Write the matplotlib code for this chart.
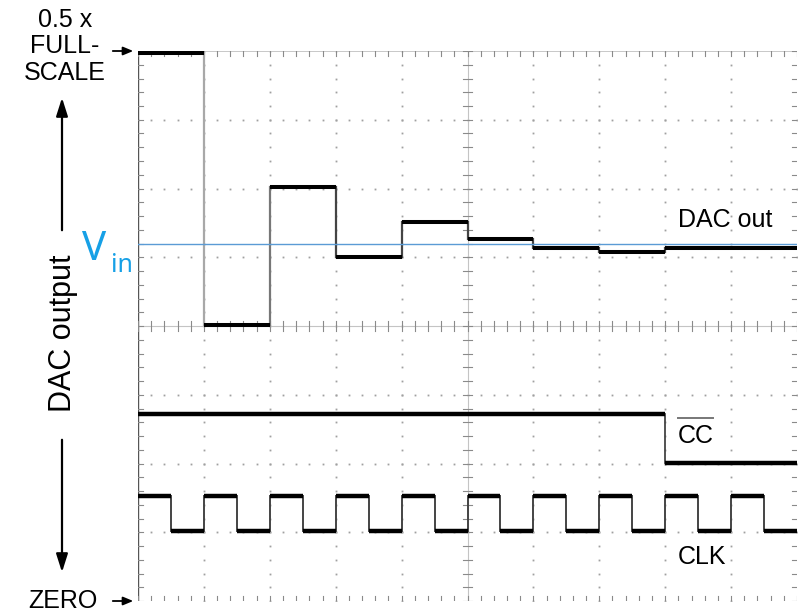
import numpy as np
import matplotlib
matplotlib.use("Agg")
import matplotlib.pyplot as plt
from matplotlib.lines import Line2D

# ---------------- data (in graticule divisions) ----------------
dac_edges = [0, 1, 2, 3, 4, 5, 6, 7, 8, 10]
dac_levels = [7.97, 4.01, 6.02, 5.01, 5.51, 5.26, 5.14, 5.07, 5.13]

cc_edges = [0, 8, 10]
cc_levels = [2.72, 2.01]

clk_edges = [0, 0.5, 1, 1.5, 2, 2.5, 3, 3.5, 4, 4.5, 5, 5.5, 6, 6.5, 7, 7.5, 8, 8.5, 9, 9.5, 10]
clk_levels = [1.53, 1.02, 1.53, 1.02, 1.53, 1.02, 1.53, 1.02, 1.53, 1.02,
              1.53, 1.02, 1.53, 1.02, 1.53, 1.02, 1.53, 1.02, 1.53, 1.02]

vin_level = 5.19

W, H = 801, 613
fig = plt.figure(figsize=(W / 100, H / 100), dpi=100)
fig.patch.set_facecolor("white")
L, R, T, B = 138, 797, 51, 601
ax = fig.add_axes([L / W, 1 - B / H, (R - L) / W, (B - T) / H])
ax.set_xlim(0, 10)
ax.set_ylim(0, 8)
ax.axis("off")

# ---------------- graticule ----------------
dot_c = "#a0a0a0"
ys = np.arange(0, 8.001, 0.2)
xs = np.arange(0, 10.001, 0.2)
for gx in range(1, 10):
    if gx == 5:
        continue
    ax.plot(np.full_like(ys, gx), ys, ls="none", marker="s", ms=1.3, mew=0, color=dot_c)
for gy in range(1, 8):
    if gy == 4:
        continue
    ax.plot(xs, np.full_like(xs, gy), ls="none", marker="s", ms=1.3, mew=0, color=dot_c)

# center cross hairs and borders
ax.plot([5, 5], [0, 8], color="#c4c4c4", lw=0.8)
ax.plot([0, 10], [4, 4], color="#c4c4c4", lw=0.8)
ax.plot([0, 10], [8, 8], color="#c8c8c8", lw=0.7)
ax.plot([0, 10], [0, 0], color="#c8c8c8", lw=0.7)
ax.plot([10, 10], [0, 8], color="#c8c8c8", lw=0.7)
ax.plot([0, 0], [0, 8], color="#555555", lw=1.0)

tx = 0.07  # tick half-length in x-div
ty = 0.07
for x0 in (0, 5, 10):
    for y in ys:
        ax.plot([x0 - tx if x0 > 0 else x0, x0 + tx if x0 < 10 else x0], [y, y], color="#8a8a8a", lw=0.8)
for y0 in (0, 4, 8):
    for x in xs:
        ax.plot([x, x], [y0 - ty if y0 > 0 else y0, y0 + ty if y0 < 8 else y0], color="#8a8a8a", lw=0.8)

# ---------------- traces ----------------
def trace(edges, levels, lw_h=3.0, vcols=None, lw_v=1.3):
    for i, lv in enumerate(levels):
        ax.plot([edges[i], edges[i + 1]], [lv, lv], color="black", lw=lw_h,
                solid_capstyle="butt", zorder=5)
        if i + 1 < len(levels):
            c = vcols[i] if vcols else "#444444"
            ax.plot([edges[i + 1], edges[i + 1]], [lv, levels[i + 1]], color=c, lw=lw_v, zorder=4)

dac_vcols = ["#a8a8a8", "#777777", "#444444", "#444444", "#444444", "#444444", "#444444", "#444444"]
trace(dac_edges, dac_levels, lw_h=2.9, vcols=dac_vcols, lw_v=1.6)
trace(cc_edges, cc_levels, lw_h=3.2)
trace(clk_edges, clk_levels, lw_h=3.2, lw_v=1.4)

ax.axhline(vin_level, color="#5B9BD5", lw=1.0, zorder=6)

# ---------------- labels ----------------
fam = ["Liberation Sans", "DejaVu Sans"]
def fp(px, py):
    return px, H - py

fs = 18
for txt, py in (("0.5 x", 20), ("FULL-", 46), ("SCALE", 73)):
    fig.text(65 / W, 1 - py / H, txt, ha="center", va="center", fontsize=fs, family=fam)
fig.text(63 / W, 1 - 601 / H, "ZERO", ha="center", va="center", fontsize=fs, family=fam)

arrow_small = dict(arrowstyle="-|>,head_length=0.6,head_width=0.25", color="black", lw=1.3)
ax.annotate("", xy=fp(136, 51), xytext=fp(110, 51), xycoords="figure pixels",
            textcoords="figure pixels", arrowprops=arrow_small)
ax.annotate("", xy=fp(136, 601), xytext=fp(110, 601), xycoords="figure pixels",
            textcoords="figure pixels", arrowprops=arrow_small)

arrow_big = dict(arrowstyle="-|>,head_length=1.1,head_width=0.35", color="black", lw=1.6)
ax.annotate("", xy=fp(62, 95), xytext=fp(62, 233), xycoords="figure pixels",
            textcoords="figure pixels", arrowprops=arrow_big)
ax.annotate("", xy=fp(62, 575), xytext=fp(62, 437), xycoords="figure pixels",
            textcoords="figure pixels", arrowprops=arrow_big)

fig.text(63 / W, 1 - 333 / H, "DAC output", rotation=90, ha="center", va="center",
         fontsize=22, family=fam)

blue = "#16A0E6"
fig.text(82 / W, 1 - 260 / H, "V", ha="left", va="baseline", fontsize=29,
         family=["Noto Sans", "DejaVu Sans"], color=blue)
fig.text(111 / W, 1 - 272 / H, "in", ha="left", va="baseline", fontsize=18,
         family=["Noto Sans", "DejaVu Sans"], color=blue)

fig.text(678 / W, 1 - 220 / H, "DAC out", ha="left", va="center", fontsize=fs, family=fam)
fig.text(678 / W, 1 - 436 / H, "CC", ha="left", va="center", fontsize=fs, family=fam)
fig.add_artist(Line2D([678 / W, 713 / W], [1 - 418 / H, 1 - 418 / H], color="#777777", lw=1.4))
fig.text(678 / W, 1 - 557 / H, "CLK", ha="left", va="center", fontsize=fs, family=fam)

fig.savefig("out.png", dpi=100, facecolor="white")
